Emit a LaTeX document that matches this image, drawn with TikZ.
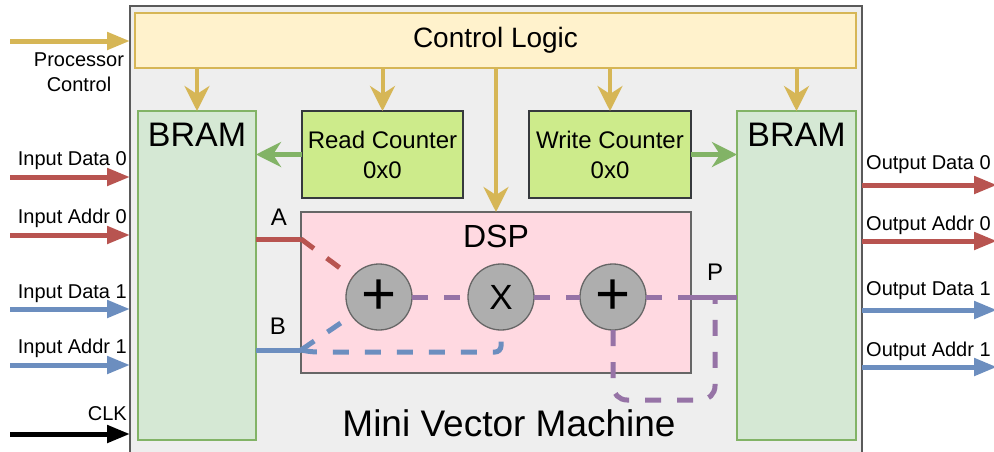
\documentclass[tikz,border=0pt]{standalone}
\usepackage{fontspec}
\setmainfont{Liberation Sans}
\usetikzlibrary{arrows.meta}

\definecolor{outerfill}{HTML}{EEEEEE}
\definecolor{outerline}{HTML}{5A5A5A}
\definecolor{ctrlfill}{HTML}{FFF2CC}
\definecolor{gold}{HTML}{D6B656}
\definecolor{bramfill}{HTML}{D5E8D4}
\definecolor{greenc}{HTML}{82B366}
\definecolor{cntfill}{HTML}{CDEB8B}
\definecolor{cntline}{HTML}{36393D}
\definecolor{dspfill}{HTML}{FFD9E1}
\definecolor{opfill}{HTML}{AEAEAE}
\definecolor{greyline}{HTML}{666666}
\definecolor{redc}{HTML}{B85450}
\definecolor{bluec}{HTML}{6C8EBF}
\definecolor{purplec}{HTML}{9673A6}

\newcommand\setsz[2]{\fontsize{#1}{#2}\selectfont}

\begin{document}
\begin{tikzpicture}[x=1pt,y=-1pt,
  box/.style={draw, anchor=north west, inner sep=0pt, outer sep=0pt, line width=1.5pt},
  bramblk/.style={box, fill=bramfill, draw=greenc, minimum width=118pt, minimum height=329pt,
    label={[font=\setsz{34}{40}, anchor=north, inner sep=0pt, yshift=-12pt]north:BRAM}},
  cntblk/.style={box, fill=cntfill, draw=cntline, minimum width=161pt, minimum height=87pt,
    font=\setsz{24}{30}, align=center},
  opnode/.style={circle, draw=greyline, fill=opfill, line width=1.3pt, minimum size=66pt,
    inner sep=0pt, outer sep=0pt},
  lbl/.style={font=\setsz{20}{25}, inner sep=0pt},
  pinlbl/.style={font=\setsz{24}{28}, inner sep=0pt},
  tipsolid/.style={-{Triangle[length=23pt,width=17pt]}},
  tipclassic/.style={-{Stealth[length=25pt,width=25pt,inset=8pt]}},
  ctrlarrow/.style={draw=gold, line width=4pt, tipclassic},
  cntarrow/.style={draw=greenc, line width=5pt, tipclassic},
  sigarrow/.style={line width=5pt, tipsolid},
  wire/.style={line width=5pt},
  dwire/.style={line width=5pt, dash pattern=on 16pt off 16pt}
]
\useasboundingbox (0,0) rectangle (994,451);

% machine outline
\node[box, fill=outerfill, draw=outerline, minimum width=732pt, minimum height=470pt] (mvm) at (130,6) {};

% control logic
\node[box, fill=ctrlfill, draw=gold, minimum width=721pt, minimum height=55pt,
  font=\setsz{28}{32}] (ctrl) at (135,13) {Control Logic};

% block RAMs
\node[bramblk] (bramL) at (138,111) {};
\node[bramblk, minimum width=119pt] (bramR) at (737,111) {};

% counters
\node[cntblk] (readc) at (302,111) {Read Counter\\0x0};
\node[cntblk, minimum width=162pt] (writec) at (529,111) {Write Counter\\0x0};

% DSP slice
\node[box, fill=dspfill, draw=greyline, minimum width=390pt, minimum height=161pt,
  label={[font=\setsz{32}{36}, anchor=north, inner sep=0pt, yshift=-13pt]north:DSP}] (dsp) at (301,212) {};

\node[opnode, font=\setsz{60}{60}] (plus1) at (379,297) {+};
\node[opnode, font=\setsz{35}{40}] (xmul) at (501,297) {X};
\node[opnode, font=\setsz{60}{60}] (plus2) at (613,297) {+};

\node[font=\setsz{37}{42}, inner sep=0pt, anchor=base] (title) at (509,436) {Mini Vector Machine};

% control fan-out
\draw[ctrlarrow] (ctrl.south -| bramL.north) -- (bramL.north);
\draw[ctrlarrow] (ctrl.south -| readc.north) -- (readc.north);
\draw[ctrlarrow] (ctrl.south -| dsp.north) -- (dsp.north);
\draw[ctrlarrow] (ctrl.south -| writec.north) -- (writec.north);
\draw[ctrlarrow] (ctrl.south -| bramR.north) -- (bramR.north);

% counters to RAMs
\draw[cntarrow] (readc.west) -- (readc.west -| bramL.east);
\draw[cntarrow] (writec.east) -- (writec.east -| bramR.west);

% DSP operand and result paths
\coordinate (Ain) at (301,239);
\coordinate (Bin) at (301,350);
\coordinate (Bbend) at (312,352);
\coordinate (Ptap) at (715,297);
\coordinate (loopR) at (715,400);

\draw[wire, redc] (Ain -| bramL.east) -- (Ain);
\draw[dwire, redc] (Ain) -- (plus1);
\draw[wire, bluec] (Bin -| bramL.east) -- (Bin);
\draw[dwire, bluec] (Bin) -- (plus1);
\draw[dwire, bluec, rounded corners=6pt] (Bin) -- (Bbend) -| (xmul.south);
\draw[dwire, purplec] (plus1) -- (xmul);
\draw[dwire, purplec] (xmul) -- (plus2);
\draw[dwire, purplec] (plus2.east) -- (plus2.east -| bramR.west);
\draw[wire, purplec] (plus2.east -| dsp.east) -- (plus2.east -| bramR.west);
\draw[dwire, purplec, rounded corners=14pt] (plus2.south) |- (loopR) -- (Ptap);

\node[pinlbl] (lblA) at (279,217) {A};
\node[pinlbl] (lblB) at (278,326) {B};
\node[pinlbl] (lblP) at (715,272) {P};

% inputs
\coordinate (pcIn) at (10,41);
\coordinate (d0In) at (10,177);
\coordinate (a0In) at (10,235);
\coordinate (d1In) at (10,309);
\coordinate (a1In) at (10,365);
\coordinate (clkIn) at (10,434);

\draw[sigarrow, gold] (pcIn) -- (pcIn -| mvm.west);
\draw[sigarrow, redc] (d0In) -- (d0In -| mvm.west);
\draw[sigarrow, redc] (a0In) -- (a0In -| mvm.west);
\draw[sigarrow, bluec] (d1In) -- (d1In -| mvm.west);
\draw[sigarrow, bluec] (a1In) -- (a1In -| mvm.west);
\draw[sigarrow, black] (clkIn) -- (clkIn -| mvm.west);

\node[lbl, align=center] (lpc) at (79,72) {Processor\\Control};
\node[lbl, anchor=base east] (ld0) at (127,165) {Input Data 0};
\node[lbl, anchor=base east] (la0) at (127,223) {Input Addr 0};
\node[lbl, anchor=base east] (ld1) at (127,298) {Input Data 1};
\node[lbl, anchor=base east] (la1) at (127,353) {Input Addr 1};
\node[lbl, anchor=base east] (lclk) at (127,420) {CLK};

% outputs
\coordinate (d0Out) at (997,185);
\coordinate (a0Out) at (997,241);
\coordinate (d1Out) at (997,310);
\coordinate (a1Out) at (997,367);

\draw[sigarrow, redc] (d0Out -| mvm.east) -- (d0Out);
\draw[sigarrow, redc] (a0Out -| mvm.east) -- (a0Out);
\draw[sigarrow, bluec] (d1Out -| mvm.east) -- (d1Out);
\draw[sigarrow, bluec] (a1Out -| mvm.east) -- (a1Out);

\node[lbl, anchor=base west] (od0) at (866,169) {Output Data 0};
\node[lbl, anchor=base west] (oa0) at (866,230) {Output Addr 0};
\node[lbl, anchor=base west] (od1) at (866,295) {Output Data 1};
\node[lbl, anchor=base west] (oa1) at (866,356) {Output Addr 1};
\end{tikzpicture}
\end{document}
